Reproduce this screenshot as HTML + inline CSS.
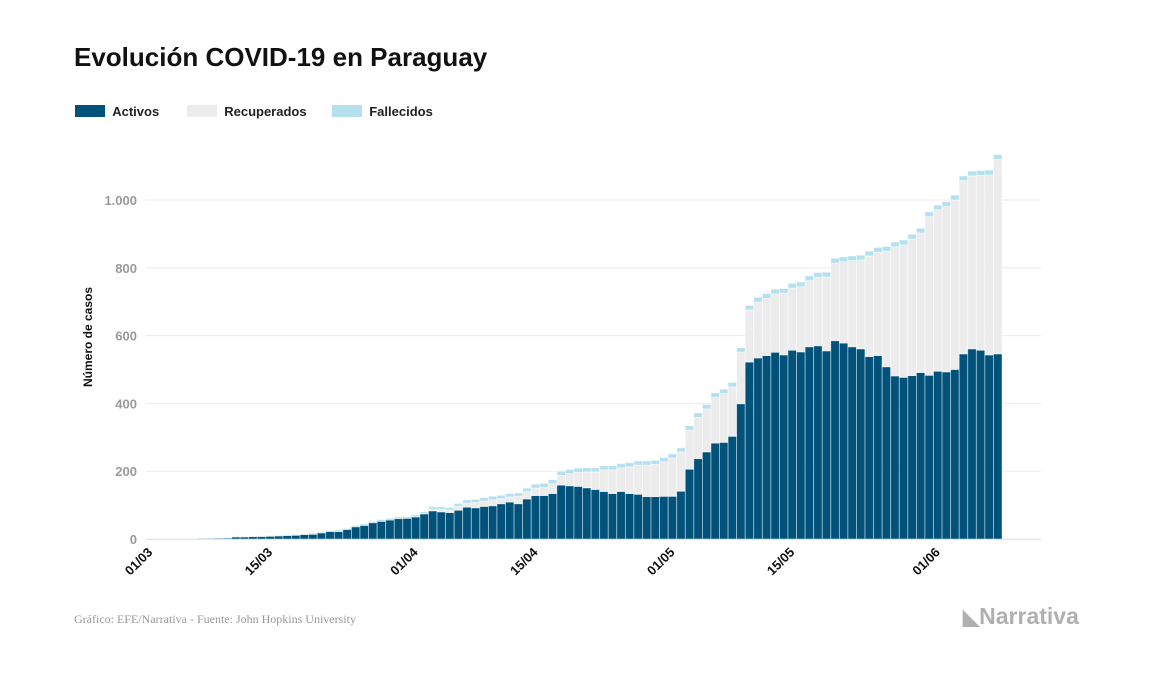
<!DOCTYPE html>
<html><head><meta charset="utf-8">
<style>
body{margin:0;width:1157px;height:674px;background:#fff;font-family:"Liberation Sans",sans-serif;overflow:hidden;position:relative}
.t{position:absolute}
</style></head><body>
<div class="t" style="left:74px;top:42px;font-size:26px;font-weight:bold;color:#111">Evolución COVID-19 en Paraguay</div>
<div class="t" style="left:75px;top:104px;font-size:13px;font-weight:bold;color:#222">
 <span style="position:absolute;left:0;white-space:nowrap"><span style="display:inline-block;width:30px;height:12px;background:#00527a;vertical-align:-1px"></span>&nbsp;&nbsp;Activos</span>
 <span style="position:absolute;left:112px;white-space:nowrap"><span style="display:inline-block;width:30px;height:12px;background:#ececec;vertical-align:-1px"></span>&nbsp;&nbsp;Recuperados</span>
 <span style="position:absolute;left:257px;white-space:nowrap"><span style="display:inline-block;width:30px;height:12px;background:#b5e0ef;vertical-align:-1px"></span>&nbsp;&nbsp;Fallecidos</span>
</div>
<svg id="chart" width="1157" height="674" style="position:absolute;left:0;top:0"></svg>
<div class="t" style="left:74px;top:612px;font-family:'Liberation Serif',serif;font-size:12px;color:#999">Gráfico: EFE/Narrativa - Fuente: John Hopkins University</div>
<div class="t" style="left:963px;top:603px;font-size:23px;font-weight:bold;color:#b0b0b0"><span style="font-size:21px">◣</span>Narrativa</div>
<script>
const ticksY=[0,200,400,600,800,1000];
const tickYLabels=["0","200","400","600","800","1.000"];
const tickXIndex=[0,14,31,45,61,75,92];
const tickXLabels=["01/03","15/03","01/04","15/04","01/05","15/05","01/06"];
const dayIndex=[];for(let i=6;i<=99;i++)dayIndex.push(i);
const totales=[1,1,2,4,8,8,9,9,10,11,12,13,15,18,22,25,27,30,40,44,52,57,60,64,65,70,80,95,95,93,105,115,117,122,126,129,134,136,150,162,164,175,200,205,209,210,210,216,216,222,225,230,230,232,240,251,269,334,372,397,431,442,462,564,689,713,724,737,739,754,758,776,786,787,828,832,835,837,849,860,863,876,882,899,917,965,985,995,1014,1071,1085,1087,1088,1134,1134];
const activos=[1,1,2,3,6,6,7,7,8,9,10,11,13,14,18,22,22,28,36,40,48,52,56,60,61,65,74,83,80,78,85,94,92,96,98,104,109,104,118,128,128,134,159,157,155,151,146,140,134,140,134,132,125,125,126,126,141,206,237,257,283,285,303,399,522,534,541,551,543,557,552,567,570,555,585,578,567,561,538,541,508,481,477,482,491,483,495,493,500,546,561,557,543,546,546];
const fallecidos=[0,0,0,1,1,1,1,2,2,2,2,2,2,3,3,3,4,3,4,4,4,5,5,5,5,6,6,8,8,8,9,9,9,10,10,10,10,10,10,12,12,12,12,12,12,12,12,12,12,12,12,12,12,12,12,12,12,13,13,13,13,13,13,13,13,14,14,14,14,14,14,14,14,14,14,14,14,14,14,14,14,14,14,14,14,14,14,14,14,14,14,14,14,14,14];
const NS="http://www.w3.org/2000/svg",svg=document.getElementById('chart');
const x0=146,bw=8.56,y0=539,ky=0.339;
const X=i=>x0+i*bw, Y=v=>y0-v*ky;
function mk(t,a){const e=document.createElementNS(NS,t);for(const k in a)e.setAttribute(k,a[k]);svg.appendChild(e);return e;}
ticksY.forEach((v,j)=>{
 const g=mk('line',{x1:146,x2:1041,y1:Y(v),y2:Y(v),stroke:'#ececec','stroke-width':1});
 
 
 const t=mk('text',{x:137,y:Y(v)+5,'text-anchor':'end','font-size':13,'font-weight':'bold',fill:'#9a9a9a','font-family':'Liberation Sans'});
 t.textContent=tickYLabels[j];
 
 
});
const yt=mk('text',{x:0,y:0,transform:'translate(92,337) rotate(-90)','text-anchor':'middle','font-size':12,'font-weight':'bold',fill:'#111','font-family':'Liberation Sans'});
yt.textContent='Número de casos';


dayIndex.forEach((d,k)=>{
 const a=activos[k],f=fallecidos[k],tot=totales[k],r=Math.max(0,tot-a-f);
 const segs=[[0,a,'#00527a','bar-activos'],[a,a+r,'#ececec','bar-recuperados'],[a+r,a+r+f,'#b5e0ef','bar-fallecidos']];
 segs.forEach(s=>{ if(s[1]<=s[0])return;
  const b=mk('rect',{x:X(d),y:Y(s[1]),width:bw,height:(s[1]-s[0])*ky,fill:s[2],stroke:'rgba(255,255,255,0.55)','stroke-width':0.8});
  
  
 });
});
const ax=mk('line',{x1:146,x2:1041,y1:y0+0.5,y2:y0+0.5,stroke:'#e4e4e4','stroke-width':1});


tickXIndex.forEach((d,j)=>{
 const cx=X(d)+bw/2;
 const t=mk('text',{x:0,y:0,transform:`translate(${cx+3},${553}) rotate(-45)`,'text-anchor':'end','font-size':13,'font-weight':'bold',fill:'#111','font-family':'Liberation Sans'});
 t.textContent=tickXLabels[j];
 
 
});
</script>
</body></html>
